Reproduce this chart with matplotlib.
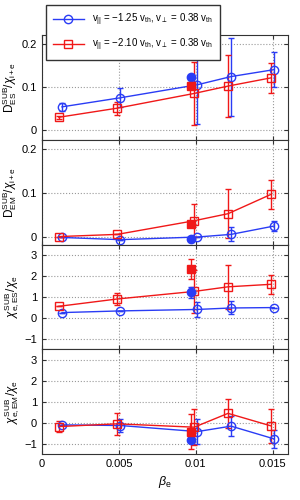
import numpy as np
import matplotlib
matplotlib.use('Agg')
import matplotlib.pyplot as plt
from matplotlib.lines import Line2D

plt.rcParams['font.family'] = ['Liberation Sans', 'DejaVu Sans']
plt.rcParams['mathtext.fontset'] = 'custom'
plt.rcParams['mathtext.rm'] = 'Liberation Sans'
plt.rcParams['mathtext.it'] = 'Liberation Sans:italic'
plt.rcParams['mathtext.sf'] = 'Liberation Sans'

# beta_e positions
x_blue = [0.0013, 0.0051, 0.0101, 0.0123, 0.0151]
x_red = [0.0011, 0.0049, 0.0099, 0.0121, 0.0149]
x_filled = 0.0097

# panel 1: D_ES / chi_i+e
d_es_blue = [0.054, 0.075, 0.105, 0.124, 0.140]
d_es_blue_err = [0.010, 0.022, 0.090, 0.090, 0.041]
d_es_red = [0.030, 0.051, 0.085, 0.102, 0.121]
d_es_red_err = [0.003, 0.015, 0.072, 0.072, 0.035]
d_es_filled = [0.122, 0.103]
d_es_filled_err = [0.005, 0.005]

# panel 2: D_EM / chi_i+e
d_em_blue = [-0.002, -0.007, -0.001, 0.005, 0.024]
d_em_blue_err = [0.0, 0.0, 0.0, 0.016, 0.011]
d_em_red = [0.000, 0.005, 0.036, 0.052, 0.096]
d_em_red_err = [0.0, 0.0, 0.037, 0.055, 0.033]
d_em_filled = [-0.006, 0.028]
d_em_filled_err = [0.0, 0.0]

# panel 3: chi_e,ES / chi_e
chi_es_blue = [0.25, 0.33, 0.40, 0.47, 0.49]
chi_es_blue_err = [0.0, 0.0, 0.36, 0.31, 0.0]
chi_es_red = [0.55, 0.90, 1.26, 1.48, 1.60]
chi_es_red_err = [0.0, 0.27, 1.02, 1.06, 0.45]
chi_es_filled = [1.21, 2.33]
chi_es_filled_err = [0.27, 0.50]

# panel 4: chi_e,EM / chi_e
chi_em_blue = [-0.11, -0.14, -0.43, -0.17, -0.78]
chi_em_blue_err = [0.0, 0.32, 0.60, 0.46, 0.41]
chi_em_red = [-0.19, -0.06, -0.22, 0.44, -0.16]
chi_em_red_err = [0.28, 0.52, 0.85, 0.70, 0.83]
chi_em_filled = [-0.83, -0.43]
chi_em_filled_err = [0.0, 0.84]

panels = [
    (d_es_blue, d_es_blue_err, d_es_red, d_es_red_err, d_es_filled, d_es_filled_err,
     r'$\mathrm{D}^{\mathrm{SUB}}_{\mathrm{ES}}/\chi_{\mathrm{i+e}}$', (-0.022, 0.22), [0, 0.1, 0.2]),
    (d_em_blue, d_em_blue_err, d_em_red, d_em_red_err, d_em_filled, d_em_filled_err,
     r'$\mathrm{D}^{\mathrm{SUB}}_{\mathrm{EM}}/\chi_{\mathrm{i+e}}$', (-0.018, 0.22), [0, 0.1, 0.2]),
    (chi_es_blue, chi_es_blue_err, chi_es_red, chi_es_red_err, chi_es_filled, chi_es_filled_err,
     r'$\chi^{\mathrm{SUB}}_{\mathrm{e,ES}}/\chi_{\mathrm{e}}$', (-1.5, 3.5), [-1, 0, 1, 2, 3]),
    (chi_em_blue, chi_em_blue_err, chi_em_red, chi_em_red_err, chi_em_filled, chi_em_filled_err,
     r'$\chi^{\mathrm{SUB}}_{\mathrm{e,EM}}/\chi_{\mathrm{e}}$', (-1.5, 3.5), [-1, 0, 1, 2, 3]),
]

blue = '#2a3cf5'
red = '#f01818'

fig, axes = plt.subplots(4, 1, figsize=(3, 5), dpi=100, sharex=True)
fig.subplots_adjust(left=0.14, right=0.96, top=0.93, bottom=0.092, hspace=0)

for ax, (yb, eb, yr, er, yf, ef, label, ylim, yticks) in zip(axes, panels):
    ax.errorbar(x_blue, yb, yerr=eb, color=blue, marker='o', mfc='none', ms=6,
                lw=1, capsize=2, elinewidth=1, zorder=3)
    ax.errorbar(x_red, yr, yerr=er, color=red, marker='s', mfc='none', ms=5.5,
                lw=1, capsize=2, elinewidth=1, zorder=3)
    ax.errorbar([x_filled], [yf[0]], yerr=[ef[0]], color=blue, marker='o', ms=6,
                ls='none', capsize=2, elinewidth=1, zorder=4)
    ax.errorbar([x_filled], [yf[1]], yerr=[ef[1]], color=red, marker='s', ms=5.5,
                ls='none', capsize=2, elinewidth=1, zorder=4)
    ax.set_xlim(0, 0.016)
    ax.set_ylim(*ylim)
    ax.set_yticks(yticks)
    ax.set_yticklabels([('\u2212' + str(abs(t))) if t < 0 else str(t) for t in yticks])
    ax.set_ylabel(label, fontsize=8.5, labelpad=2)
    ax.grid(True, ls=':', color='#999999', lw=0.8)
    ax.tick_params(direction='in', labelsize=8, length=3, color='#333333',
                   top=True, right=True)
    for sp in ax.spines.values():
        sp.set_color('#333333')

axes[-1].set_xticks([0, 0.005, 0.01, 0.015])
axes[-1].set_xticklabels(['0', '0.005', '0.01', '0.015'])
axes[-1].set_xlabel(r'$\beta_{\mathrm{e}}$', fontsize=9)

hb = Line2D([], [], color=blue, marker='o', mfc='none', ms=6, lw=1)
hr = Line2D([], [], color=red, marker='s', mfc='none', ms=5.5, lw=1)
fig.legend([hb, hr],
           [r'$\mathrm{v}_{||}$ = $-$1.25 $\mathrm{v}_{\mathrm{th}}$, $\mathrm{v}_{\perp}$ = 0.38 $\mathrm{v}_{\mathrm{th}}$',
            r'$\mathrm{v}_{||}$ = $-$2.10 $\mathrm{v}_{\mathrm{th}}$, $\mathrm{v}_{\perp}$ = 0.38 $\mathrm{v}_{\mathrm{th}}$'],
           loc='upper left', bbox_to_anchor=(46 / 300, 1 - 5 / 500), fontsize=7,
           fancybox=False, edgecolor='#333333', framealpha=1, handlelength=3.2,
           borderpad=0.7, labelspacing=0.9, borderaxespad=0)

fig.savefig('out.png', dpi=100)
